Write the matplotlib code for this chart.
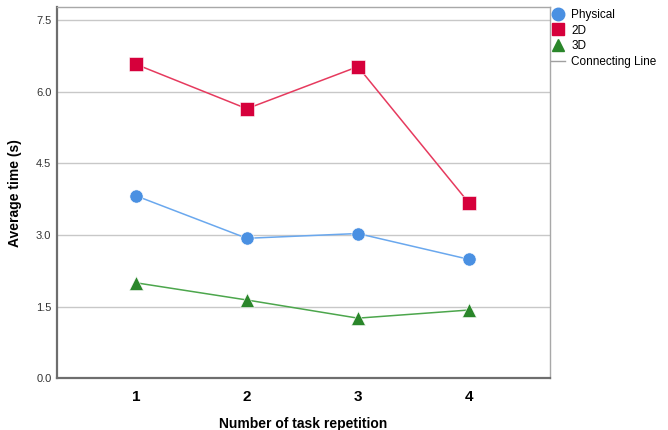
import matplotlib.pyplot as plt
from matplotlib.lines import Line2D

plt.rcParams["font.family"] = ["Liberation Sans", "DejaVu Sans"]

# Data
repetitions = [1, 2, 3, 4]
physical = [3.82, 2.93, 3.03, 2.49]
flat_2d = [6.57, 5.64, 6.52, 3.67]
solid_3d = [2.00, 1.64, 1.26, 1.43]
y_ticks = [0.0, 1.5, 3.0, 4.5, 6.0, 7.5]

# series: label, values, marker, marker colour, line colour
series = [
    ("Physical", physical, "o", "#4A90E2", "#6AA8EE"),
    ("2D", flat_2d, "s", "#D6003B", "#E63A5E"),
    ("3D", solid_3d, "^", "#2A862A", "#4CA64C"),
]

fig = plt.figure(figsize=(6.68, 4.30), dpi=100)
ax = fig.add_axes([0.0853, 0.12, 0.738, 0.864])

for label, vals, mk, mcol, lcol in series:
    ax.plot(repetitions, vals, color=lcol, lw=1.1, zorder=2)
    ax.plot(repetitions, vals, ls="none", marker=mk, ms=9.5 if mk != "^" else 10,
            color=mcol, markeredgecolor="white", markeredgewidth=0.4, zorder=3)

ax.set_xlim(0.29, 4.73)
ax.set_ylim(0, 7.77)
ax.set_xticks(repetitions)
ax.set_xticklabels([str(r) for r in repetitions], fontsize=11, fontweight="bold")
ax.set_yticks(y_ticks)
ax.set_yticklabels([f"{t:.1f}" for t in y_ticks], fontsize=8, color="#333333")
ax.tick_params(axis="both", length=0)
ax.tick_params(axis="x", pad=8)
ax.tick_params(axis="y", pad=4)

ax.grid(axis="y", color="#C8C8C8", lw=1.0, zorder=1)
ax.set_axisbelow(True)

for side in ["left", "bottom"]:
    ax.spines[side].set_color("#6E6E6E")
    ax.spines[side].set_linewidth(1.6)
for side in ["top", "right"]:
    ax.spines[side].set_color("#A8A8A8")
    ax.spines[side].set_linewidth(1.0)

ax.set_xlabel("Number of task repetition", fontsize=10, fontweight="bold", labelpad=10)
ax.set_ylabel("Average time (s)", fontsize=10, fontweight="bold", labelpad=10)

handles = [Line2D([], [], ls="none", marker=mk, ms=9, color=mcol, label=label)
           for label, vals, mk, mcol, lcol in series]
handles.append(Line2D([], [], color="#A0A0A0", lw=1.0, label="Connecting Line"))
fig.legend(handles=handles, loc="upper left", bbox_to_anchor=(0.818, 0.99),
           frameon=False, fontsize=8.5, handlelength=1.2, handletextpad=0.5,
           labelspacing=0.3, borderaxespad=0)

fig.savefig("out.png", dpi=100)
